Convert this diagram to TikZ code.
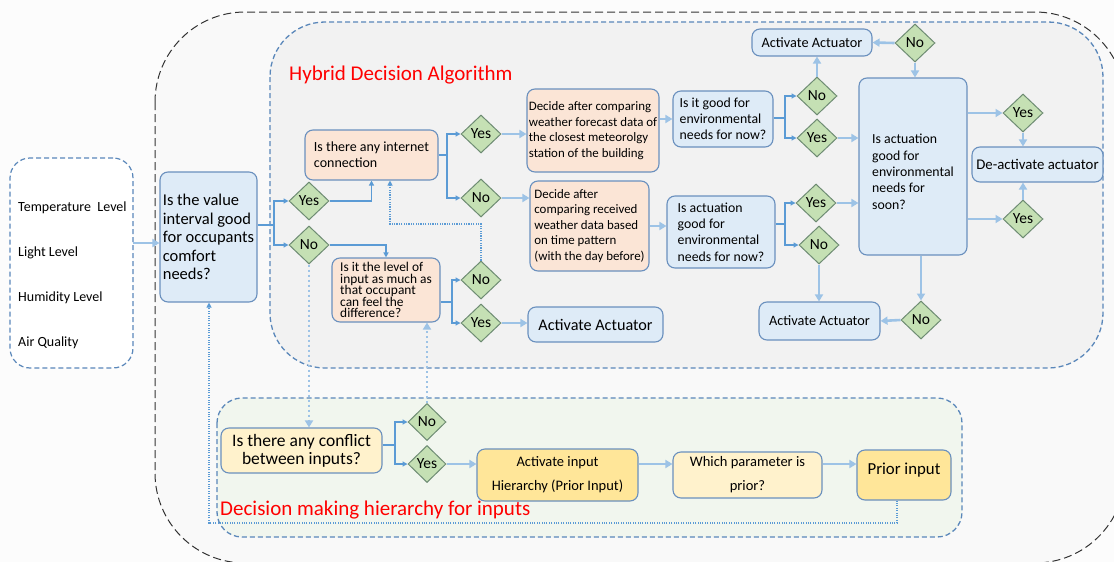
\documentclass[tikz,border=0pt]{standalone}
\usepackage{fontspec}
\setmainfont{Carlito}
\usetikzlibrary{positioning, arrows.meta, shapes.geometric}

\definecolor{pagebg}{HTML}{FCFCFC}
\definecolor{outerfill}{HTML}{F9F9F9}
\definecolor{outerline}{HTML}{333333}
\definecolor{hybridfill}{HTML}{F2F2F2}
\definecolor{hierfill}{HTML}{F1F6EE}
\definecolor{regionline}{HTML}{5A87BA}
\definecolor{boxblue}{HTML}{DEEBF7}
\definecolor{boxline}{HTML}{6A90BE}
\definecolor{peach}{HTML}{FBE5D6}
\definecolor{paleyellow}{HTML}{FFF2CC}
\definecolor{gold}{HTML}{FFE699}
\definecolor{choicefill}{HTML}{C5E0B4}
\definecolor{choiceline}{HTML}{6E8C73}
\definecolor{linklight}{HTML}{9DC3E6}
\definecolor{linkdark}{HTML}{5B9BD5}
\definecolor{titlered}{HTML}{FF0000}

\newcommand{\tightlines}{\lineskiplimit=-8pt\relax}

\begin{document}
\begin{tikzpicture}[x=1pt, y=-1pt,
    % Styles
    box/.style={draw=boxline, line width=1.1pt, rounded corners=8pt, inner sep=1pt, align=left},
    bluebox/.style={box, fill=boxblue},
    peachbox/.style={box, fill=peach},
    palebox/.style={box, fill=paleyellow, align=center},
    goldbox/.style={box, fill=gold, align=center},
    choice/.style={diamond, draw=choiceline, fill=choicefill, line width=1pt, minimum width=40pt, minimum height=38pt, inner sep=0pt, font=\fontsize{15.5}{16}\selectfont},
    region/.style={draw=regionline, line width=1.3pt, dash pattern=on 5pt off 3pt},
    branch/.style={-{Triangle[length=5pt,width=5pt]}, line width=1.4pt, linkdark},
    link/.style={-{Triangle[length=7pt,width=8pt]}, line width=2.6pt, linklight},
    dotlink/.style={-{Triangle[length=7pt,width=8pt]}, line width=2.4pt, linklight, dash pattern=on 2.4pt off 2.6pt},
    dotback/.style={-{Triangle[length=5pt,width=5pt]}, line width=1.1pt, linkdark, dash pattern=on 1.1pt off 1.3pt},
    heading/.style={titlered, font=\fontsize{21}{24}\selectfont, anchor=west, inner sep=0pt},
    inputtext/.style={font=\fontsize{14}{16}\selectfont, anchor=west, inner sep=0pt},
]

% Page and frames
\useasboundingbox (0,0) rectangle (1114,562);
\fill[pagebg] (0,0) rectangle (1114,562);
\clip (0,0) rectangle (1114,562);
\draw[outerline, fill=outerfill, line width=1pt, dash pattern=on 8pt off 4pt, rounded corners=90pt] (155,12) rectangle (1125,563);

% Hybrid region
\draw[region, fill=hybridfill, rounded corners=55pt] (270,22) rectangle (1103,368);
\node[heading] (hybridtitle) at (289,75) {Hybrid Decision Algorithm};

% Hierarchy region
\draw[region, fill=hierfill, rounded corners=25pt] (217,398) rectangle (962,537);
\node[heading] (hiertitle) at (220,510) {Decision making hierarchy for inputs};

% Inputs
\node[draw=regionline, fill=white, line width=1.2pt, dash pattern=on 5pt off 3pt, rounded corners=20pt, minimum width=123pt, minimum height=210pt] (inputs) at (71.5,263) {};
\node[inputtext] (temp) at (18,208) {Temperature\ \ Level};
\node[inputtext] (light) at (18,253) {Light Level};
\node[inputtext] (humid) at (18,298) {Humidity Level};
\node[inputtext] (air) at (18,343) {Air Quality};

% Comfort check
\node[bluebox, minimum width=97pt, minimum height=130pt, font=\fontsize{16.5}{18.5}\selectfont] (comfort) at (208.5,237)
    {Is the value\\interval good\\for occupants\\comfort\\needs?};
\node[choice] (yes1) at (309,201) {Yes};
\node[choice] (no1) at (309,245) {No};

% Internet branch
\node[peachbox, minimum width=133pt, minimum height=50pt, font=\fontsize{14}{16}\selectfont] (internet) at (371.5,155)
    {Is there any internet\\connection};
\node[choice] (yes2) at (481,134) {Yes};
\node[choice] (no2) at (481,198) {No};
\node[peachbox, minimum width=132pt, minimum height=83pt, font=\fontsize{12.9}{15.5}\selectfont] (forecast) at (593,130.5)
    {Decide after comparing\\weather forecast data of\\the closest meteorolgy\\station of the building};
\node[peachbox, minimum width=119pt, minimum height=90pt, font=\fontsize{12.9}{15.5}\selectfont] (pattern) at (589.5,226)
    {Decide after\\comparing received\\weather data based\\on time pattern\\(with the day before)};

% Level branch
\node[peachbox, minimum width=108pt, minimum height=64pt, font=\fontsize{13.4}{11.6}\selectfont\tightlines] (level) at (386,290)
    {Is it the level of\\input as much as\\that occupant\\can feel the\\difference?};
\node[choice] (no3) at (481,280) {No};
\node[choice] (yes3) at (481,323) {Yes};
\node[bluebox, minimum width=135pt, minimum height=35pt, font=\fontsize{16.2}{18}\selectfont] (midact) at (595.5,324.5) {Activate Actuator};

% Now checks
\node[bluebox, minimum width=100pt, minimum height=56pt, font=\fontsize{13.8}{16}\selectfont] (nowgood) at (723,119)
    {Is it good for\\environmental\\needs for now?};
\node[choice] (no5) at (817,96) {No};
\node[choice] (yes5) at (817,138) {Yes};
\node[bluebox, minimum width=108pt, minimum height=72pt, font=\fontsize{13.8}{16.3}\selectfont] (nowact) at (721,232)
    {Is actuation\\good for\\environmental\\needs for now?};
\node[choice] (yes7) at (816,203) {Yes};
\node[choice] (no7) at (819,245) {No};

% Soon check
\node[bluebox, minimum width=108pt, minimum height=177pt, font=\fontsize{13.8}{16.3}\selectfont] (soon) at (913,166.5)
    {\rule{0pt}{20pt}Is actuation\\good for\\environmental\\needs for\\soon?};
\node[bluebox, minimum width=120pt, minimum height=27pt, font=\fontsize{14.3}{16}\selectfont] (topact) at (812,42.5) {Activate Actuator};
\node[choice] (no6) at (915,43) {No};
\node[bluebox, minimum width=121pt, minimum height=38pt, font=\fontsize{14.3}{16}\selectfont] (botact) at (819.5,321) {Activate Actuator};
\node[choice] (no8) at (921,320) {No};
\node[choice] (yes9) at (1023,113) {Yes};
\node[choice] (yes10) at (1023,219) {Yes};
\node[bluebox, minimum width=131pt, minimum height=35pt, font=\fontsize{14.8}{16}\selectfont] (deact) at (1037.5,164.5) {De-activate actuator};

% Hierarchy
\node[palebox, minimum width=161pt, minimum height=45pt, font=\fontsize{17.5}{18}\selectfont] (conflict) at (301.5,450.5)
    {Is there any conflict\\between inputs?};
\node[choice, minimum width=38pt, minimum height=37pt] (no4) at (427,422) {No};
\node[choice, minimum width=38pt, minimum height=37pt] (yes4) at (427,464) {Yes};
\node[goldbox, minimum width=161pt, minimum height=52pt, font=\fontsize{14.5}{24}\selectfont] (hier) at (557.5,475)
    {Activate input\\Hierarchy (Prior Input)};
\node[palebox, minimum width=149pt, minimum height=46pt, font=\fontsize{14.5}{24}\selectfont] (which) at (747.5,475)
    {Which parameter is\\prior?};
\node[goldbox, minimum width=94pt, minimum height=50pt, font=\fontsize{16.8}{18}\selectfont, text height=12pt, text depth=14pt] (prior) at (904,475) {Prior input};

% Split points
\coordinate (ia) at (133,243);
\coordinate (sp1) at (274,225);
\coordinate (sp2) at (447,155);
\coordinate (sp3) at (785,118);
\coordinate (sp4) at (785,224);
\coordinate (sp5) at (452,302);
\coordinate (sp6) at (395,445);
\coordinate (dk) at (390,224);
\coordinate (dl1) at (897,523);
\coordinate (dl2) at (209,523);

% Connectors
\draw[link] (ia) -- (ia -| comfort.west);
\draw[branch, -] (comfort.east |- sp1) -- (sp1);
\draw[branch] (sp1) |- (yes1.west);
\draw[branch] (sp1) |- (no1.west);
\draw[branch] (yes1.east) -| (internet.south);
\draw[branch] (no1.east) -| (level.north);

\draw[branch, -] (internet.east) -- (sp2);
\draw[branch] (sp2) |- (yes2.west);
\draw[branch] (sp2) |- (no2.west);
\draw[link] (yes2.east) -- (yes2.east -| forecast.west);
\draw[link] (no2.east) -- (no2.east -| pattern.west);
\draw[link] (forecast.east |- nowgood.west) -- (nowgood.west);
\draw[link] (pattern.east) -- (pattern.east -| nowact.west);

\draw[branch, -] (nowgood.east |- sp3) -- (sp3);
\draw[branch] (sp3) |- (no5.west);
\draw[branch] (sp3) |- (yes5.west);
\draw[link] (no5.north) -- (no5.north |- topact.south);
\draw[link] (yes5.east) -- (yes5.east -| soon.west);
\draw[link] (no6.west) -- (topact.east);
\draw[link] (no6.south) -- (no6.south |- soon.north);

\draw[branch, -] (nowact.east |- sp4) -- (sp4);
\draw[branch] (sp4) |- (yes7.west);
\draw[branch] (sp4) |- (no7.west);
\draw[link] (yes7.east) -- (yes7.east -| soon.west);
\draw[link] (no7.south) -- (no7.south |- botact.north);
\draw[link] (no8.north |- soon.south) -- (no8.north);
\draw[link] (no8.west) -- (botact.east);
\draw[link] (soon.east |- yes9) -- (yes9.west);
\draw[link] (yes9.south) -- (yes9.south |- deact.north);
\draw[link] (soon.east |- yes10) -- (yes10.west);
\draw[link] (yes10.north) -- (yes10.north |- deact.south);

\draw[branch, -] (level.east |- sp5) -- (sp5);
\draw[branch] (sp5) |- (no3.west);
\draw[branch] (sp5) |- (yes3.west);
\draw[link] (yes3.east) -- (yes3.east -| midact.west);
\draw[dotback] (no3.north) |- (dk) -- (dk |- internet.south);

\draw[dotlink] (no1.south) -- (no1.south |- conflict.north);
\draw[dotlink] (no4.north) -- (no4.north |- level.south);
\draw[branch, -] (conflict.east |- sp6) -- (sp6);
\draw[branch] (sp6) |- (no4.west);
\draw[branch] (sp6) |- (yes4.west);
\draw[link] (yes4.east) -- (yes4.east -| hier.west);
\draw[link] (hier.east |- yes4) -- (which.west |- yes4);
\draw[link] (which.east |- yes4) -- (prior.west |- yes4);
\draw[dotback] (prior.south -| dl1) -- (dl1) -- (dl2) -- (dl2 |- comfort.south);

\end{tikzpicture}
\end{document}
